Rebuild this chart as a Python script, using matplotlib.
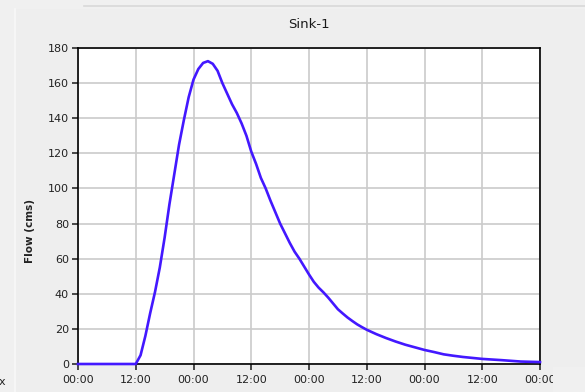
import matplotlib
matplotlib.use("Agg")
import matplotlib.pyplot as plt
import matplotlib.dates as mdates
import pandas as pd
from matplotlib.lines import Line2D
from matplotlib.patches import Rectangle

# Outflow hydrograph at Sink-1 (hours from start of simulation, flow in cms)
hours = [0, 12, 13, 14, 15, 16, 17, 18, 19, 20, 21, 22, 23, 24, 25, 26, 27,
         28, 29, 30, 31, 32, 33, 34, 35, 36, 37, 38, 39, 40, 41, 42, 43, 44,
         45, 46, 47, 48, 49, 50, 51, 52, 53, 54, 55, 56, 57, 58, 59, 60, 62,
         64, 66, 68, 70, 72, 74, 76, 78, 80, 84, 88, 92, 96]
flow = [0, 0, 5, 16, 29, 41, 55, 72, 91, 108, 125, 139, 152, 162, 168, 171.5,
        172.5, 171, 167, 160, 154, 148, 143, 137, 130, 121, 114, 106, 100, 93,
        86.5, 80, 74.5, 69, 64, 60, 55.5, 51, 46.8, 43.5, 40.8, 37.8, 34.5,
        31.2, 28.8, 26.5, 24.5, 22.6, 21, 19.5, 17, 14.8, 12.8, 11, 9.5, 8,
        6.8, 5.5, 4.7, 4, 2.9, 2.2, 1.4, 1.1]
y_ticks = list(range(0, 181, 20))
title = "Sink-1"
y_label = "Flow (cms)"

start = pd.Timestamp("2000-01-01 00:00")
times = start + pd.to_timedelta(hours, unit="h")

W, H = 585, 392
bg = "#f0f0f0"
fig = plt.figure(figsize=(W / 100, H / 100), dpi=100, facecolor=bg)

# window chrome
fig.add_artist(Line2D([84 / W, 1], [1 - 6 / H, 1 - 6 / H], transform=fig.transFigure,
                      color="#d8d8d8", lw=1.2))
fig.add_artist(Line2D([14.5 / W, 14.5 / W], [0, 1 - 9 / H], transform=fig.transFigure,
                      color="#f8f8f8", lw=1.2))
fig.add_artist(Rectangle((15.5 / W, 0), 1, 1 - 9 / H, transform=fig.transFigure,
                         facecolor="#eeeeee", edgecolor="none", zorder=-5))

ax = fig.add_axes([78 / W, 28 / H, 462 / W, 316 / H])
ax.set_facecolor("white")
ax.plot(times, flow, color="#4318ff", lw=1.9, zorder=5, clip_on=False,
        solid_joinstyle="round")

ax.set_xlim(start, start + pd.Timedelta(days=4))
ax.set_ylim(0, 180)
ax.set_yticks(y_ticks)
ax.xaxis.set_major_locator(mdates.HourLocator(byhour=[0, 12]))
ax.xaxis.set_major_formatter(mdates.DateFormatter("%H:%M"))

ax.grid(True, color="#cbcbcb", lw=1.2)
ax.set_axisbelow(True)
ax.tick_params(direction="out", length=4.5, width=1.1, labelsize=8,
               colors="#1a1a1a", labelcolor="#222222")
ax.tick_params(axis="x", pad=3.5)
ax.tick_params(axis="y", pad=2)
for s in ax.spines.values():
    s.set_color("black")
    s.set_linewidth(1.2)

fig.text(309 / W, 1 - 25 / H, title, ha="center", va="center", fontsize=9.5,
         color="#1a1a1a")
fig.text(30 / W, 1 - 231 / H, y_label, ha="center", va="center", rotation=90,
         fontsize=7.5, fontweight="bold", color="#222222")
fig.text(1.5 / W, 1 - 382 / H, "x", ha="center", va="center", fontsize=8,
         color="#222222")

# the last tick label is cut off by the panel edge
fig.add_artist(Rectangle((553 / W, 0), 1, 25 / H, transform=fig.transFigure,
                         facecolor=bg, edgecolor="none", zorder=10))

fig.savefig("out.png", dpi=100, facecolor=bg)
